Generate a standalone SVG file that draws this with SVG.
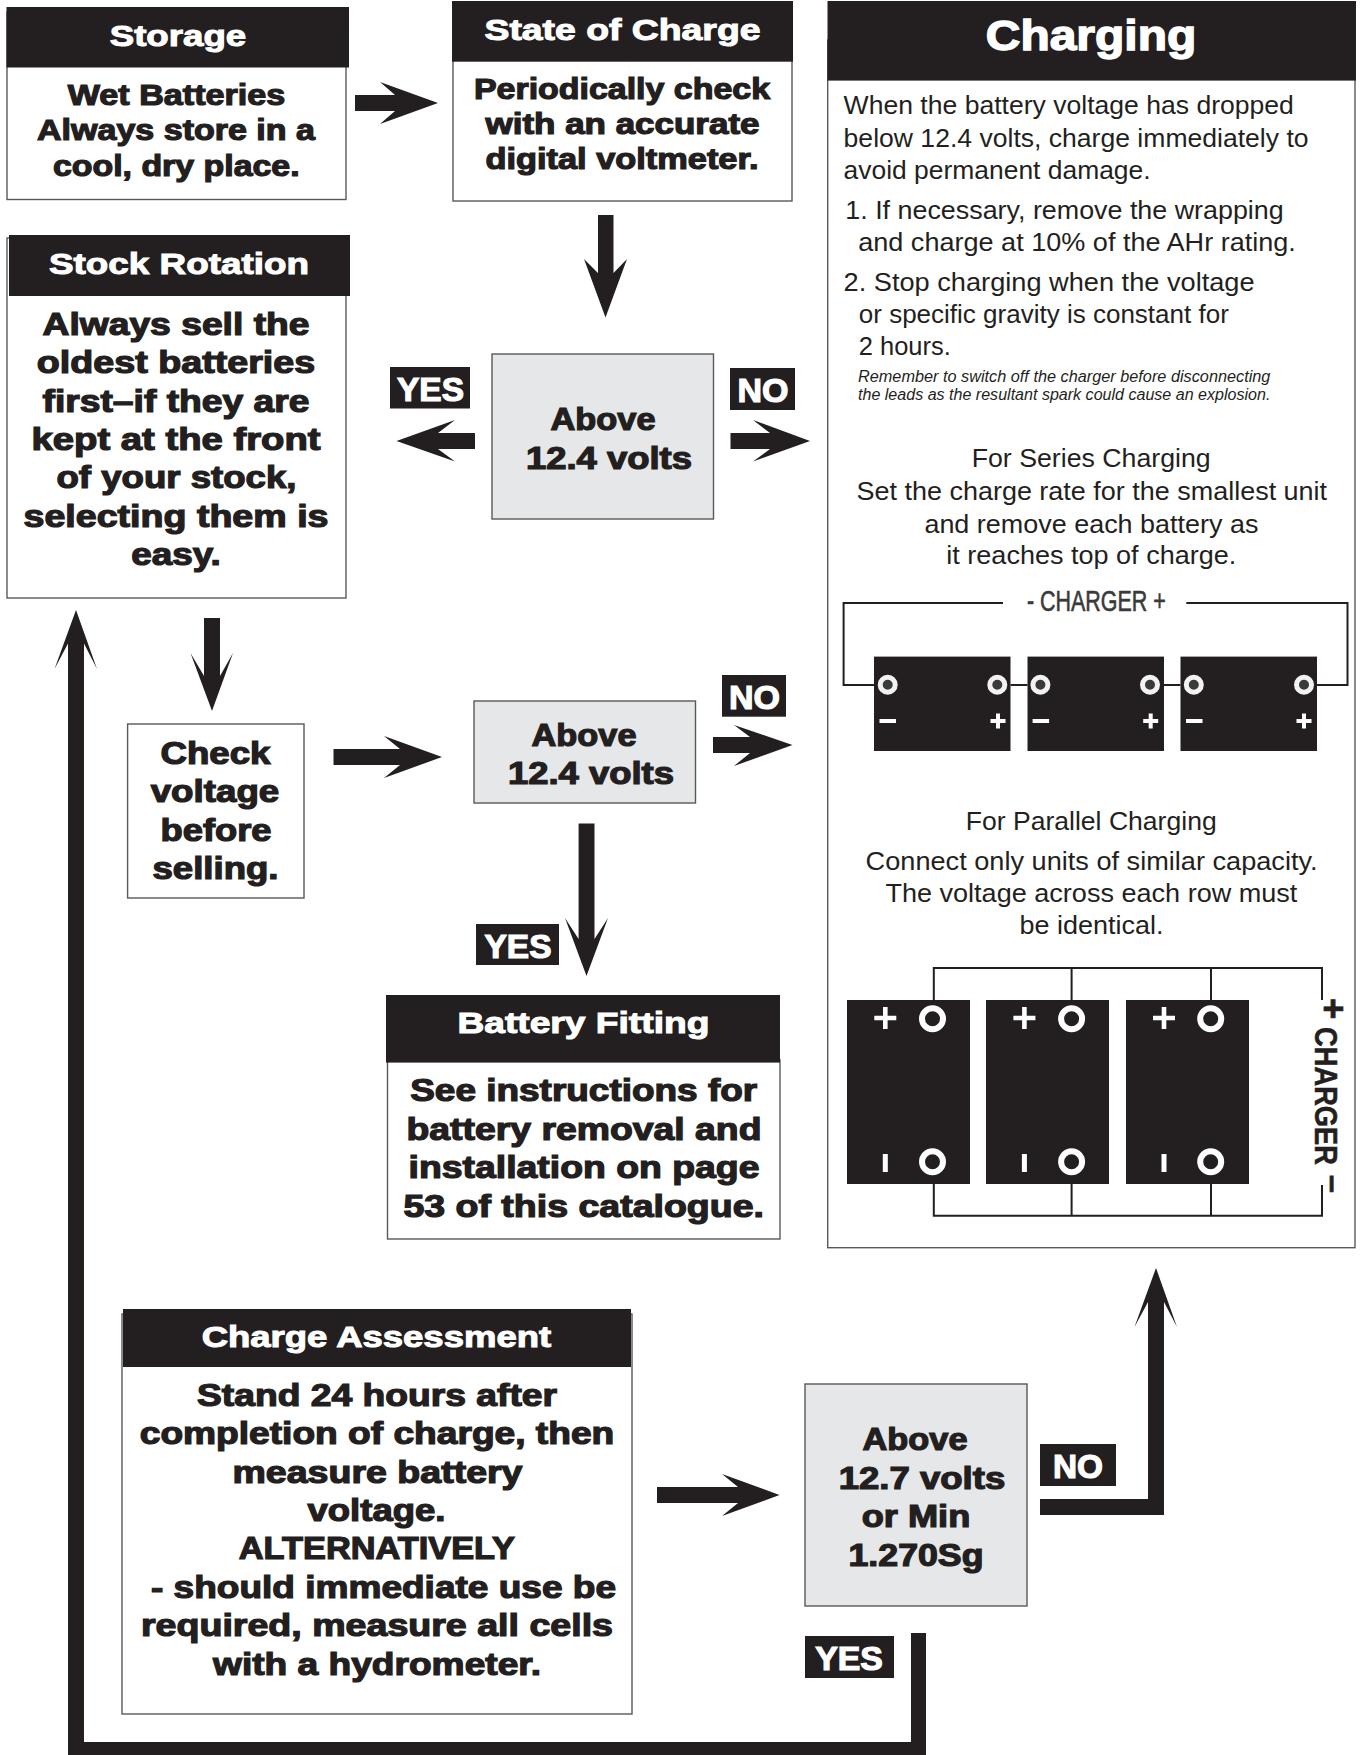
<svg xmlns="http://www.w3.org/2000/svg" width="1362" height="1755" viewBox="0 0 1362 1755">
<style>
text{font-family:"Liberation Sans",Arial,sans-serif;fill:#231f20;text-anchor:middle}
.b{font-weight:700;stroke:#231f20;stroke-width:1.2;font-size:29px}
.big{font-size:30.5px}
.h{font-weight:700;fill:#fff;stroke:#fff;stroke-width:1;font-size:30px}
.lbl{font-weight:700;fill:#fff;stroke:#fff;stroke-width:1.2;font-size:34px}
.r{font-size:26.7px}
.s{text-anchor:start}
.i{font-size:15.6px;font-style:italic;text-anchor:start}
.box{fill:#fff;stroke:#58595b;stroke-width:1.4}
.dec{fill:#e6e7e8;stroke:#58595b;stroke-width:1.4}
.hd,.blk,.arr{fill:#231f20}
.wire{fill:none;stroke:#231f20;stroke-width:2}
.ring{fill:#231f20;stroke:#fff;stroke-width:6}
.ring2{fill:#3a3a3a;stroke:#f2f2f2;stroke-width:5}
.mark{fill:#fff}
</style>

<g id="connectors">
<path class="arr" d="M355 95H395L380 82L438 103L380 124L395 111H355Z"/>
<path class="arr" d="M598 215H613.5V273L627 259L605.5 317.5L584 259L598 273Z"/>
<path class="arr" d="M475 433H438L455 420L396.5 441L455 461.5L438 449H475Z"/>
<path class="arr" d="M730.5 433H770L753 420L810 441L753 461.5L770 449H730.5Z"/>
<path class="arr" d="M204 618H220V676L233 653L212 711L190.5 653L204 676Z"/>
<path class="arr" d="M333.5 749H400L384 736L442 757L384 778L400 765H333.5Z"/>
<path class="arr" d="M713 737H750L734 725L792.5 745L734 766L750 753H713Z"/>
<path class="arr" d="M578.6 823.6H594.5V939L608 918L586.5 976L565 918L578.6 939Z"/>
<path class="arr" d="M657 1487H738L722 1474L779.5 1495L722 1516L738 1503H657Z"/>
<path class="arr" d="M1040 1499H1148V1302L1134.5 1327L1156 1268L1177 1327L1164 1302V1515H1040Z"/>
<path class="arr" d="M911 1633H926V1755H68V643.5L54.5 669L76 610L97 669L84 643.5V1742H911Z"/>
</g>

<g id="connector-labels">
<rect class="blk" x="390" y="367" width="80" height="41.5"/>
<text class="lbl" x="430.5" y="400.5" textLength="67" lengthAdjust="spacingAndGlyphs">YES</text>
<rect class="blk" x="730" y="368" width="65" height="42"/>
<text class="lbl" x="763" y="401.5" textLength="51" lengthAdjust="spacingAndGlyphs">NO</text>
<rect class="blk" x="722" y="675" width="64" height="41.7"/>
<text class="lbl" x="754.4" y="708.7" textLength="51" lengthAdjust="spacingAndGlyphs">NO</text>
<rect class="blk" x="476" y="924" width="83" height="41"/>
<text class="lbl" x="518" y="958" textLength="67" lengthAdjust="spacingAndGlyphs">YES</text>
<rect class="blk" x="1040" y="1444" width="76" height="42"/>
<text class="lbl" x="1078" y="1477.7" textLength="50" lengthAdjust="spacingAndGlyphs">NO</text>
<rect class="blk" x="805" y="1636" width="89" height="42"/>
<text class="lbl" x="849" y="1670" textLength="67.7" lengthAdjust="spacingAndGlyphs">YES</text>
</g>

<g id="storage">
<rect class="box" x="7" y="12" width="339" height="187.5"/>
<rect class="hd" x="6.5" y="7" width="342.5" height="60.5"/>
<text class="h" x="178" y="45.5" textLength="136.6" lengthAdjust="spacingAndGlyphs">Storage</text>
<text class="b" x="176.5" y="104.7" textLength="217.5" lengthAdjust="spacingAndGlyphs">Wet Batteries</text>
<text class="b" x="176" y="140.3" textLength="278" lengthAdjust="spacingAndGlyphs">Always store in a</text>
<text class="b" x="176.3" y="175.8" textLength="246.7" lengthAdjust="spacingAndGlyphs">cool, dry place.</text>
</g>

<g id="state-of-charge">
<rect class="box" x="453" y="5" width="339" height="196"/>
<rect class="hd" x="452" y="1" width="341" height="60.7"/>
<text class="h" x="622.5" y="39.5" textLength="276" lengthAdjust="spacingAndGlyphs">State of Charge</text>
<text class="b" x="622" y="98.8" textLength="296" lengthAdjust="spacingAndGlyphs">Periodically check</text>
<text class="b" x="622.5" y="134.4" textLength="274" lengthAdjust="spacingAndGlyphs">with an accurate</text>
<text class="b" x="622" y="169.3" textLength="273" lengthAdjust="spacingAndGlyphs">digital voltmeter.</text>
</g>

<g id="stock-rotation">
<rect class="box" x="7" y="238" width="339" height="360"/>
<rect class="hd" x="9" y="235" width="341" height="61"/>
<text class="h" x="179" y="273.5" textLength="260" lengthAdjust="spacingAndGlyphs">Stock Rotation</text>
<text class="b big" x="176" y="334.8" textLength="267" lengthAdjust="spacingAndGlyphs">Always sell the</text>
<text class="b big" x="176" y="372.8" textLength="278.5" lengthAdjust="spacingAndGlyphs">oldest batteries</text>
<text class="b big" x="176" y="412" textLength="267" lengthAdjust="spacingAndGlyphs">first–if they are</text>
<text class="b big" x="176" y="450" textLength="289" lengthAdjust="spacingAndGlyphs">kept at the front</text>
<text class="b big" x="176.5" y="488" textLength="240" lengthAdjust="spacingAndGlyphs">of your stock,</text>
<text class="b big" x="176" y="526.8" textLength="305" lengthAdjust="spacingAndGlyphs">selecting them is</text>
<text class="b big" x="176" y="565" textLength="89.5" lengthAdjust="spacingAndGlyphs">easy.</text>
</g>

<g id="decision-1">
<rect class="dec" x="492" y="354" width="221.5" height="165"/>
<text class="b big" x="603" y="429.7" textLength="105" lengthAdjust="spacingAndGlyphs">Above</text>
<text class="b big" x="609" y="469.4" textLength="166" lengthAdjust="spacingAndGlyphs">12.4 volts</text>
</g>

<g id="check-voltage">
<rect class="box" x="127.6" y="724" width="176.4" height="174"/>
<text class="b big" x="215.5" y="764.4" textLength="110" lengthAdjust="spacingAndGlyphs">Check</text>
<text class="b big" x="215" y="802" textLength="128.6" lengthAdjust="spacingAndGlyphs">voltage</text>
<text class="b big" x="216" y="840.8" textLength="111" lengthAdjust="spacingAndGlyphs">before</text>
<text class="b big" x="215.5" y="879.2" textLength="126" lengthAdjust="spacingAndGlyphs">selling.</text>
</g>

<g id="decision-2">
<rect class="dec" x="474" y="701" width="221.5" height="102"/>
<text class="b big" x="584" y="745.7" textLength="105" lengthAdjust="spacingAndGlyphs">Above</text>
<text class="b big" x="591" y="783.6" textLength="166" lengthAdjust="spacingAndGlyphs">12.4 volts</text>
</g>

<g id="battery-fitting">
<rect class="box" x="387.5" y="1060" width="392.5" height="179"/>
<rect class="hd" x="386" y="995" width="394" height="67.6"/>
<text class="h" x="583.4" y="1032.8" textLength="252" lengthAdjust="spacingAndGlyphs">Battery Fitting</text>
<text class="b big" x="583.7" y="1100.5" textLength="347" lengthAdjust="spacingAndGlyphs">See instructions for</text>
<text class="b big" x="584" y="1140" textLength="355" lengthAdjust="spacingAndGlyphs">battery removal and</text>
<text class="b big" x="584" y="1178" textLength="351" lengthAdjust="spacingAndGlyphs">installation on page</text>
<text class="b big" x="583.7" y="1217" textLength="360.5" lengthAdjust="spacingAndGlyphs">53 of this catalogue.</text>
</g>

<g id="charge-assessment">
<rect class="box" x="122" y="1314" width="510" height="400"/>
<rect class="hd" x="123" y="1309" width="508" height="58"/>
<text class="h" x="376.4" y="1347.2" textLength="349.5" lengthAdjust="spacingAndGlyphs">Charge Assessment</text>
<text class="b big" x="377" y="1406" textLength="360" lengthAdjust="spacingAndGlyphs">Stand 24 hours after</text>
<text class="b big" x="377" y="1444" textLength="474.5" lengthAdjust="spacingAndGlyphs">completion of charge, then</text>
<text class="b big" x="377.5" y="1482.7" textLength="290" lengthAdjust="spacingAndGlyphs">measure battery</text>
<text class="b big" x="376.5" y="1521" textLength="138" lengthAdjust="spacingAndGlyphs">voltage.</text>
<text class="b big" x="376.8" y="1559" textLength="276" lengthAdjust="spacingAndGlyphs">ALTERNATIVELY</text>
<text class="b big" x="383.5" y="1597.7" textLength="465" lengthAdjust="spacingAndGlyphs">- should immediate use be</text>
<text class="b big" x="377" y="1636" textLength="472" lengthAdjust="spacingAndGlyphs">required, measure all cells</text>
<text class="b big" x="377" y="1675" textLength="328" lengthAdjust="spacingAndGlyphs">with a hydrometer.</text>
</g>

<g id="decision-3">
<rect class="dec" x="805" y="1384" width="222" height="222"/>
<text class="b big" x="915" y="1450" textLength="105" lengthAdjust="spacingAndGlyphs">Above</text>
<text class="b big" x="922" y="1489" textLength="166.6" lengthAdjust="spacingAndGlyphs">12.7 volts</text>
<text class="b big" x="916" y="1527" textLength="108.6" lengthAdjust="spacingAndGlyphs">or Min</text>
<text class="b big" x="916" y="1565.5" textLength="135" lengthAdjust="spacingAndGlyphs">1.270Sg</text>
</g>

<g id="charging">
<rect class="box" x="827.7" y="40" width="527.3" height="1207.7"/>
<rect class="hd" x="827.5" y="1" width="528.5" height="79.6"/>
<text class="h" style="font-size:42px;stroke-width:1.4" x="1091" y="50" textLength="210.5" lengthAdjust="spacingAndGlyphs">Charging</text>
<text class="r s" x="843.6" y="114" textLength="450.3" lengthAdjust="spacingAndGlyphs">When the battery voltage has dropped</text>
<text class="r s" x="843.6" y="146.5" textLength="465" lengthAdjust="spacingAndGlyphs">below 12.4 volts, charge immediately to</text>
<text class="r s" x="843.6" y="179" textLength="307" lengthAdjust="spacingAndGlyphs">avoid permanent damage.</text>
<text class="r s" x="845.3" y="219" textLength="438.4" lengthAdjust="spacingAndGlyphs">1. If necessary, remove the wrapping</text>
<text class="r s" x="858.2" y="250.5" textLength="437.7" lengthAdjust="spacingAndGlyphs">and charge at 10% of the AHr rating.</text>
<text class="r s" x="843.6" y="291" textLength="411" lengthAdjust="spacingAndGlyphs">2. Stop charging when the voltage</text>
<text class="r s" x="858.8" y="322.5" textLength="370" lengthAdjust="spacingAndGlyphs">or specific gravity is constant for</text>
<text class="r s" x="858.8" y="354.6" textLength="92" lengthAdjust="spacingAndGlyphs">2 hours.</text>
<text class="i" x="858" y="381.6" textLength="412.4" lengthAdjust="spacingAndGlyphs">Remember to switch off the charger before disconnecting</text>
<text class="i" x="858" y="399.5" textLength="412.4" lengthAdjust="spacingAndGlyphs">the leads as the resultant spark could cause an explosion.</text>
<text class="r" x="1091.2" y="467" textLength="239" lengthAdjust="spacingAndGlyphs">For Series Charging</text>
<text class="r" x="1091.8" y="500" textLength="470.6" lengthAdjust="spacingAndGlyphs">Set the charge rate for the smallest unit</text>
<text class="r" x="1091.4" y="533" textLength="334" lengthAdjust="spacingAndGlyphs">and remove each battery as</text>
<text class="r" x="1091.3" y="564" textLength="290" lengthAdjust="spacingAndGlyphs">it reaches top of charge.</text>

<path class="wire" d="M1003 603H843.6V685H874M1186.3 603H1347.5V685H1317M1010.5 685H1027.5M1164 685H1180.5"/>
<text style="font-size:29px;fill:#3a3a3a;stroke:#3a3a3a;stroke-width:.6" x="1096.4" y="610.5" textLength="139" lengthAdjust="spacingAndGlyphs">- CHARGER +</text>
<rect class="blk" x="874" y="656.6" width="136.5" height="94.4"/>
<rect class="blk" x="1027.5" y="656.6" width="136.5" height="94.4"/>
<rect class="blk" x="1180.5" y="656.6" width="136.5" height="94.4"/>
<circle class="ring2" cx="887.7" cy="684.7" r="7.5"/><circle class="ring2" cx="997.3" cy="684.7" r="7.5"/>
<circle class="ring2" cx="1040.4" cy="684.7" r="7.5"/><circle class="ring2" cx="1150" cy="684.7" r="7.5"/>
<circle class="ring2" cx="1193.8" cy="684.7" r="7.5"/><circle class="ring2" cx="1304" cy="684.7" r="7.5"/>
<path class="mark" d="M879.5 719h16.5v4h-16.5zM1032.6 719h16.5v4h-16.5zM1186 719h16.5v4h-16.5zM990.5 719h15v4h-15zM996 713.5h4v15h-4zM1143.2 719h15v4h-15zM1148.7 713.5h4v15h-4zM1296.5 719h15v4h-15zM1302 713.5h4v15h-4z"/>

<text class="r" x="1091.2" y="830" textLength="251" lengthAdjust="spacingAndGlyphs">For Parallel Charging</text>
<text class="r" x="1091.6" y="869.5" textLength="452" lengthAdjust="spacingAndGlyphs">Connect only units of similar capacity.</text>
<text class="r" x="1091.4" y="902" textLength="412" lengthAdjust="spacingAndGlyphs">The voltage across each row must</text>
<text class="r" x="1091.5" y="934" textLength="144" lengthAdjust="spacingAndGlyphs">be identical.</text>

<path class="wire" d="M933.8 1000V968H1322V1000M1071.6 968V1000M1211 968V1000M933.8 1184V1215.7H1322V1185M1071.6 1184V1215.7M1211 1184V1215.7"/>
<rect class="blk" x="847" y="1000" width="123" height="184"/>
<rect class="blk" x="986" y="1000" width="123" height="184"/>
<rect class="blk" x="1126" y="1000" width="123" height="184"/>
<circle class="ring" cx="932.5" cy="1018.7" r="10.5"/><circle class="ring" cx="1071.6" cy="1018.7" r="10.5"/><circle class="ring" cx="1210.7" cy="1018.7" r="10.5"/>
<circle class="ring" cx="932.5" cy="1161.7" r="10.5"/><circle class="ring" cx="1071.6" cy="1161.7" r="10.5"/><circle class="ring" cx="1210.7" cy="1161.7" r="10.5"/>
<path class="mark" d="M874.3 1015.7h22v4.6h-22zM883 1007h4.6v22h-4.6zM1013.4 1015.7h22v4.6h-22zM1022.1 1007h4.6v22h-4.6zM1153 1015.7h22v4.6h-22zM1161.7 1007h4.6v22h-4.6zM882.8 1154h5v18h-5zM1021.9 1154h5v18h-5zM1161.5 1154h5v18h-5z"/>
<text transform="translate(1314.6 1096) rotate(90)" style="font-weight:700;font-size:31px;stroke:#231f20;stroke-width:.5" textLength="138" lengthAdjust="spacingAndGlyphs">CHARGER</text>
<text transform="translate(1320.5 1008.7) rotate(90)" style="font-weight:700;font-size:36px;stroke:#231f20;stroke-width:.8">+</text>
<text transform="translate(1322.5 1184) rotate(90)" style="font-weight:700;font-size:32px;stroke:#231f20;stroke-width:.8">–</text>
</g>
</svg>
